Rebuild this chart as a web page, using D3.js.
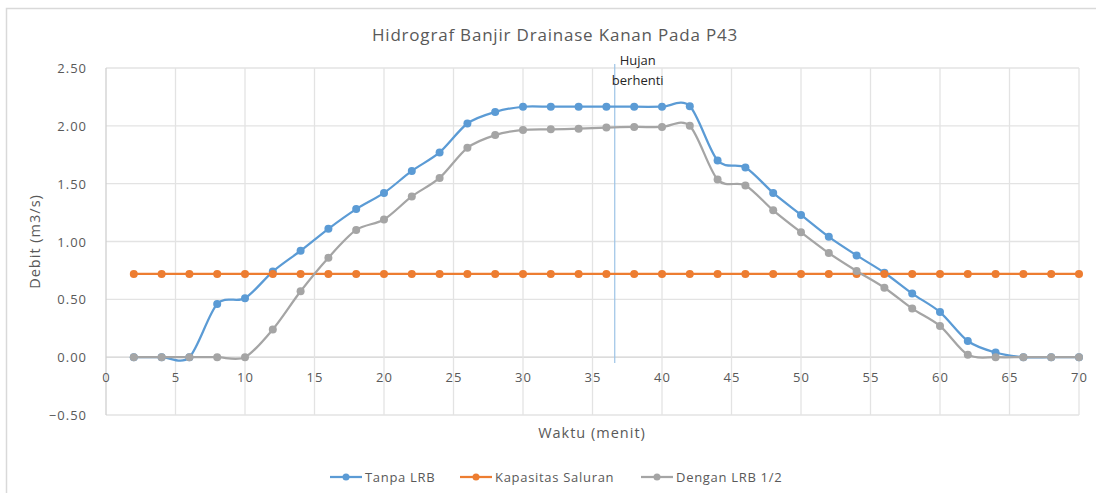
<!DOCTYPE html>
<html>
<head>
<meta charset="utf-8">
<script src="https://cdn.jsdelivr.net/npm/d3@7"></script>
<style>
  body { margin: 0; background: #fff; }
  text { font-family: "Open Sans", sans-serif; fill: #595959; }
</style>
</head>
<body>
<div id="drawing"></div>
<script>
// data
const waktu = [2,4,6,8,10,12,14,16,18,20,22,24,26,28,30,32,34,36,38,40,42,44,46,48,50,52,54,56,58,60,62,64,66,68,70];
const tanpaLRB = [0,0,0,0.46,0.51,0.74,0.92,1.11,1.28,1.42,1.61,1.77,2.02,2.12,2.165,2.165,2.165,2.165,2.165,2.165,2.17,1.70,1.64,1.42,1.23,1.04,0.88,0.73,0.55,0.39,0.14,0.04,0,0,0];
const kapasitas = waktu.map(() => 0.72);
const denganLRB = [0,0,0,0,0,0.24,0.57,0.86,1.10,1.19,1.39,1.55,1.81,1.92,1.965,1.97,1.975,1.985,1.99,1.99,2.0,1.535,1.485,1.27,1.08,0.90,0.745,0.60,0.42,0.27,0.02,0,0,0,0];
const yTicks = [-0.5,0,0.5,1,1.5,2,2.5];
const xTicks = [0,5,10,15,20,25,30,35,40,45,50,55,60,65,70];
const seriesNames = ["Tanpa LRB","Kapasitas Saluran","Dengan LRB 1/2"];
const seriesColors = ["#5B9BD5","#ED7D31","#A5A5A5"];
const hujanBerhenti = 36.6;

const width = 1096;
const height = 493;
const margin = {top: 68, right: 17, bottom: 78, left: 106};

const svg = d3.select("#drawing").append("svg")
  .attr("width", width)
  .attr("height", height);

// outer chart border
svg.append("rect")
  .attr("x", 6.5).attr("y", 8.5)
  .attr("width", width + 20).attr("height", height + 20)
  .style("fill", "none")
  .style("stroke", "#D9D9D9")
  .style("stroke-width", 1.5);

const x = d3.scaleLinear().domain([0, 70]).range([margin.left, width - margin.right]);
const y = d3.scaleLinear().domain([-0.5, 2.5]).range([height - margin.bottom, margin.top]);

// grid
const grid = svg.append("g");
grid.selectAll(".hg").data(yTicks).enter().append("line")
  .attr("x1", x(0)).attr("x2", x(70))
  .attr("y1", d => y(d)).attr("y2", d => y(d))
  .style("stroke", d => d === 0 ? "#D0D0D0" : "#E3E3E3")
  .style("stroke-width", 1.3);
grid.selectAll(".vg").data(xTicks).enter().append("line")
  .attr("x1", d => x(d)).attr("x2", d => x(d))
  .attr("y1", y(2.5)).attr("y2", y(-0.5))
  .style("stroke", d => d === 0 ? "#D0D0D0" : "#E3E3E3")
  .style("stroke-width", 1.3);

// axes (labels only)
const yAxis = svg.append("g")
  .attr("transform", `translate(${margin.left - 16},0)`)
  .call(d3.axisLeft(y).tickValues(yTicks).tickFormat(d3.format(".2f")).tickSize(0));
yAxis.select(".domain").remove();
yAxis.selectAll("text").style("font-size", "13px").style("letter-spacing", "1px").attr("dy", "0.35em");

const xAxis = svg.append("g")
  .attr("transform", `translate(0,${y(0) + 17})`)
  .call(d3.axisBottom(x).tickValues(xTicks).tickSize(0));
xAxis.select(".domain").remove();
xAxis.selectAll("text").style("font-size", "13px").style("letter-spacing", "1px").attr("dy", "0.35em");

// rain stop marker
svg.append("line")
  .attr("x1", x(hujanBerhenti)).attr("x2", x(hujanBerhenti))
  .attr("y1", 64).attr("y2", 363)
  .style("stroke", "#9DC3E6")
  .style("stroke-width", 1.2);
svg.append("text").attr("x", x(hujanBerhenti) + 23).attr("y", 65)
  .attr("text-anchor", "middle").style("font-size", "13px").style("fill", "#262626")
  .text("Hujan");
svg.append("text").attr("x", x(hujanBerhenti) + 23).attr("y", 85)
  .attr("text-anchor", "middle").style("font-size", "13px").style("fill", "#262626")
  .text("berhenti");

// series
const allSeries = [tanpaLRB, kapasitas, denganLRB];
const line = d3.line()
  .x((d, i) => x(waktu[i]))
  .y(d => y(d))
  .curve(d3.curveCardinal.tension(0.1));

allSeries.forEach((vals, s) => {
  const g = svg.append("g");
  g.append("path")
    .datum(vals)
    .attr("d", line)
    .style("fill", "none")
    .style("stroke", seriesColors[s])
    .style("stroke-width", 2.25);
  g.selectAll("circle").data(vals).enter().append("circle")
    .attr("cx", (d, i) => x(waktu[i]))
    .attr("cy", d => y(d))
    .attr("r", 4)
    .style("fill", seriesColors[s]);
});

// title + axis titles
svg.append("text").attr("x", 555).attr("y", 41)
  .attr("text-anchor", "middle").style("font-size", "17px").style("letter-spacing", "0.8px")
  .text("Hidrograf Banjir Drainase Kanan Pada P43");
svg.append("text").attr("x", 592).attr("y", 438)
  .attr("text-anchor", "middle").style("font-size", "14.5px").style("letter-spacing", "1px")
  .text("Waktu (menit)");
svg.append("text")
  .attr("transform", `translate(40,${y(1)}) rotate(-90)`)
  .attr("text-anchor", "middle").style("font-size", "14.5px").style("letter-spacing", "1px")
  .text("Debit (m3/s)");

// legend
const legendX = [330, 460, 641];
seriesNames.forEach((name, s) => {
  const lg = svg.append("g").attr("transform", `translate(${legendX[s]},477)`);
  lg.append("line").attr("x1", 0).attr("x2", 32)
    .style("stroke", seriesColors[s]).style("stroke-width", 2.25);
  lg.append("circle").attr("cx", 16).attr("r", 3.5).style("fill", seriesColors[s]);
  lg.append("text").attr("x", 35).attr("dy", "0.35em")
    .style("font-size", "13px").style("letter-spacing", "0.7px").text(name);
});
</script>
</body>
</html>
